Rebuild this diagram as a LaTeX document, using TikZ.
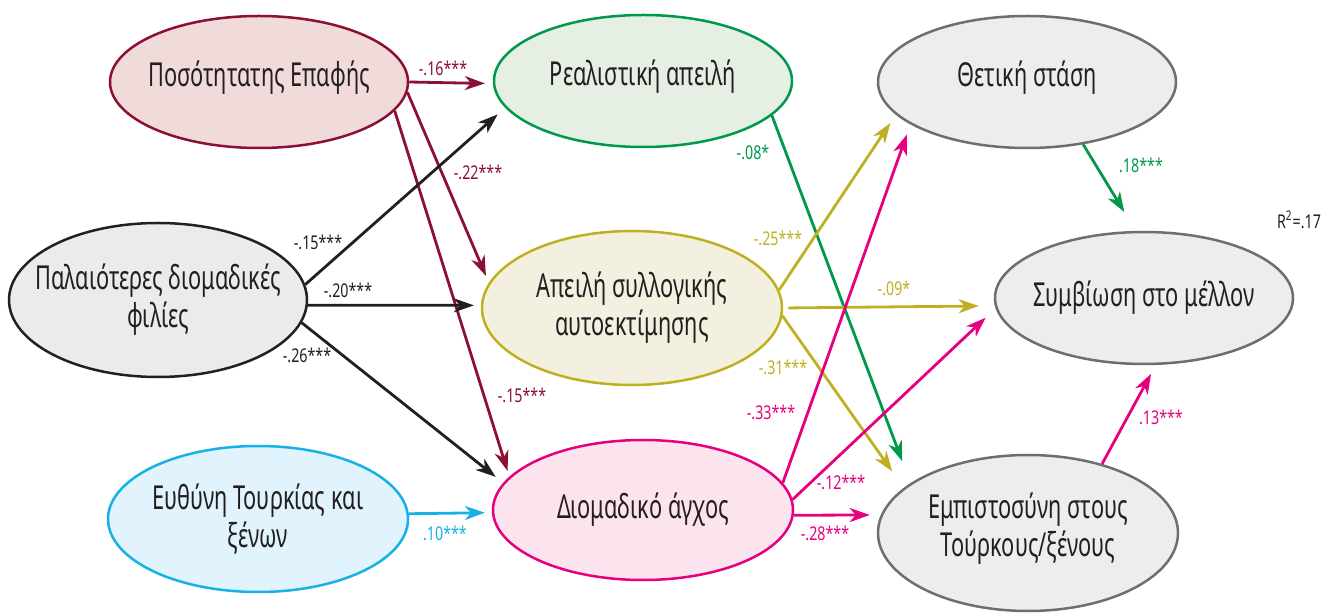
\documentclass[tikz,border=0pt]{standalone}
\usepackage{fontspec}
\setmainfont{Noto Sans}[FakeStretch=0.75]
\newfontfamily\varfont{Noto Sans}[FakeStretch=0.66]
\usetikzlibrary{arrows.meta,shapes.geometric}
\definecolor{txt}{RGB}{35,31,32}
\definecolor{dred}{RGB}{139,16,52}
\definecolor{pfill}{RGB}{240,218,218}
\definecolor{grn}{RGB}{0,152,74}
\definecolor{rfill}{RGB}{229,239,228}
\definecolor{blk}{RGB}{35,31,32}
\definecolor{ofill}{RGB}{234,235,235}
\definecolor{olv}{RGB}{191,176,34}
\definecolor{afill}{RGB}{243,240,223}
\definecolor{cyn}{RGB}{23,177,232}
\definecolor{efill}{RGB}{225,243,252}
\definecolor{mag}{RGB}{230,0,126}
\definecolor{dfill}{RGB}{252,228,239}
\definecolor{gbord}{RGB}{109,110,112}
\definecolor{gfill}{RGB}{236,237,239}
\begin{document}
\begin{tikzpicture}[x=0.5pt,y=-0.5pt,
  var/.style={ellipse, draw, line width=1.25pt, inner sep=0pt,
    minimum width=149pt, minimum height=66pt},
  vtext/.style={align=center, inner sep=0pt, text=txt,
    font=\varfont\fontsize{16.5}{19}\selectfont},
  arr/.style={line width=1.4pt, -{Stealth[length=10pt,width=7pt,inset=3pt]}},
  coef/.style={inner sep=0pt, font=\fontsize{9.5}{11}\selectfont}
]
\useasboundingbox (0,0) rectangle (1328,614);
% variables
\node[var, draw=dred, fill=pfill] (P) at (259,82) {};
\node[var, draw=grn, fill=rfill] (R) at (643,81) {};
\node[var, draw=gbord, fill=gfill] (T) at (1027,82) {};
\node[var, minimum height=77pt, draw=blk, fill=ofill] (O) at (158,300) {};
\node[var, minimum height=77pt, minimum width=150pt, draw=olv, fill=afill] (A) at (632,308) {};
\node[var, draw=gbord, fill=gfill] (S) at (1144,298) {};
\node[var, minimum height=73pt, minimum width=150pt, draw=cyn, fill=efill] (E) at (258,519) {};
\node[var, minimum height=70pt, minimum width=150pt, draw=mag, fill=dfill] (D) at (643,510) {};
\node[var, minimum height=78pt, minimum width=150pt, draw=gbord, fill=gfill] (M) at (1028,533) {};
% texts
\node[vtext] (Pt) at ([yshift=2pt]P.center) {Ποσότητατης Επαφής};
\node[vtext] (Rt) at ([yshift=2pt]R.center) {Ρεαλιστική απειλή};
\node[vtext] (Tt) at ([yshift=2pt]T.center) {Θετική στάση};
\node[vtext] (Ot) at (O) {Παλαιότερες διομαδικές\\φιλίες};
\node[vtext] (At) at (A) {Απειλή συλλογικής\\αυτοεκτίμησης};
\node[vtext] (St) at (S) {Συμβίωση στο μέλλον};
\node[vtext] (Et) at (E) {Ευθύνη Τουρκίας και\\ξένων};
\node[vtext] (Dt) at (D) {Διομαδικό άγχος};
\node[vtext] (Mt) at ([yshift=2pt]M.center) {Εμπιστοσύνη στους\\Τούρκους/ξένους};
% arrows
\draw[arr, dred, shorten >=4pt] (P.east) -- (R.181);
\draw[arr, dred, shorten >=3.7pt] (P.-4) -- (A.170.5);
\draw[arr, dred, shorten >=3pt] (P.-12.4) -- (D.166);
\draw[arr, blk, shorten >=5pt] (O.6.6) -- (R.191.5);
\draw[arr, blk, shorten >=3.5pt] (O.-2) -- (A.179);
\draw[arr, blk, shorten >=4.8pt] (O.-9) -- (D.169);
\draw[arr, cyn, shorten >=3.5pt] (E.2) -- (D.181.5);
\draw[arr, grn, shorten >=11.7pt] (R.-15) -- (M.157.6);
\draw[arr, olv, shorten >=5pt] (A.7.4) -- (T.194.7);
\draw[arr, olv, shorten <=2.5pt, shorten >=8pt] (A.0.8) -- (S.183.1);
\draw[arr, olv, shorten >=10pt] (A.-3) -- (M.160.1);
\draw[arr, mag, shorten >=5.4pt] (D.11.3) -- (T.-160);
\draw[arr, mag, shorten >=6.8pt] (D.4.6) -- (S.184.2);
\draw[arr, mag, shorten >=5.5pt] (D.-2) -- (M.173.4);
\draw[arr, grn, shorten >=11pt] (T.-48.4) -- (S.97.3);
\draw[arr, mag, shorten >=5pt] (M.43) -- (S.-80.2);
% coefficients
\node[coef, text=dred] (c1) at (443,68) {-.16***};
\node[coef, text=dred] (c2) at (478,172) {-.22***};
\node[coef, text=dred] (c3) at (522,395) {-.15***};
\node[coef, text=blk] (c4) at (318,242) {-.15***};
\node[coef, text=blk] (c5) at (348,290) {-.20***};
\node[coef, text=blk] (c6) at (307,355) {-.26***};
\node[coef, text=cyn] (c7) at (445,533) {.10***};
\node[coef, text=grn] (c8) at (753,152) {-.08*};
\node[coef, text=olv] (c9) at (778,238) {-.25***};
\node[coef, text=olv] (c10) at (894,288) {-.09*};
\node[coef, text=olv] (c11) at (783,367) {-.31***};
\node[coef, text=mag] (c12) at (771,412) {-.33***};
\node[coef, text=mag] (c13) at (841,482) {-.12***};
\node[coef, text=mag] (c14) at (825,533) {-.28***};
\node[coef, text=grn] (c15) at (1141,165) {.18***};
\node[coef, text=mag] (c16) at (1161,417) {.13***};
\node[coef, text=txt] (r2) at (1299,220) {R\textsuperscript{2}=.17};
\end{tikzpicture}
\end{document}
